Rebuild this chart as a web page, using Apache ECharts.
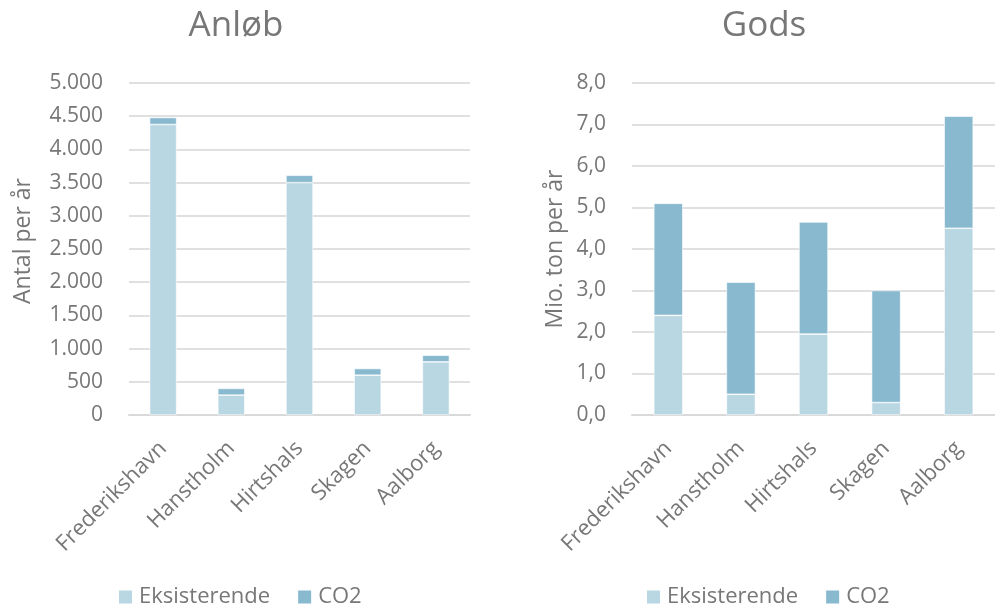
<!DOCTYPE html>
<html>
<head>
<meta charset="utf-8">
<script src="https://cdn.jsdelivr.net/npm/echarts@6/dist/echarts.min.js"></script>
<style>
  html, body { margin: 0; padding: 0; background: #fff; }
  #chart { width: 995px; height: 610px; }
</style>
</head>
<body>
<div id="chart"></div>
<script>
// Havne og deres trafik: anløb pr. år og gods i mio. ton pr. år
const ports = ['Frederikshavn', 'Hanstholm', 'Hirtshals', 'Skagen', 'Aalborg'];

const calls_existing = [4375, 300, 3500, 600, 800];
const calls_co2 = [105, 100, 110, 100, 100];

const goods_existing = [2.4, 0.5, 1.95, 0.3, 4.5];
const goods_co2 = [2.7, 2.7, 2.7, 2.7, 2.7];

const callsTicks = [0, 500, 1000, 1500, 2000, 2500, 3000, 3500, 4000, 4500, 5000];
const goodsTicks = [0, 1, 2, 3, 4, 5, 6, 7, 8];

const seriesNames = ['Eksisterende', 'CO2'];

const FONT = '"Open Sans", "Noto Sans", sans-serif';
const TXT = '#777777';
const LIGHT = '#b8d7e2';
const DARK = '#88b9cf';

const fmtThousands = v => String(Math.round(v)).replace(/\B(?=(\d{3})+(?!\d))/g, '.');
const fmtDecimal = v => v.toFixed(1).replace('.', ',');

function yAxis(idx, ticks, fmt, name, nameGap, namePad) {
  return {
    type: 'value', gridIndex: idx,
    min: ticks[0], max: ticks[ticks.length - 1], interval: ticks[1] - ticks[0],
    name: name, nameLocation: 'middle', nameGap: nameGap,
    nameTextStyle: { color: TXT, fontSize: 23, fontFamily: FONT, padding: namePad },
    axisLine: { show: false }, axisTick: { show: false },
    axisLabel: { color: TXT, fontSize: 21, fontFamily: FONT, margin: 26, formatter: fmt },
    splitLine: { lineStyle: { color: '#e0e0e0', width: 2 } }
  };
}

function xAxis(idx) {
  return {
    type: 'category', gridIndex: idx, data: ports,
    axisLine: { lineStyle: { color: '#d9d9d9', width: 2 } },
    axisTick: { show: false },
    axisLabel: { color: TXT, fontSize: 22, fontFamily: FONT, rotate: 45, margin: 30, interval: 0 }
  };
}

function bars(idx, existing, co2, width) {
  const base = { type: 'bar', stack: 's' + idx, xAxisIndex: idx, yAxisIndex: idx, barWidth: width };
  return [
    Object.assign({}, base, { name: seriesNames[0], data: existing,
      itemStyle: { color: LIGHT, borderColor: '#ffffff', borderWidth: 0.6 } }),
    Object.assign({}, base, { name: seriesNames[1], data: co2,
      itemStyle: { color: DARK, borderColor: '#ffffff', borderWidth: 0.6 } })
  ];
}

function legend(left) {
  return {
    left: left, top: 586, padding: 0, itemWidth: 15, itemHeight: 15, itemGap: 26,
    icon: 'rect', data: seriesNames,
    textStyle: { color: TXT, fontSize: 22, fontFamily: FONT, padding: [0, 0, 0, 1] }
  };
}

const chart = echarts.init(document.getElementById('chart'));
chart.setOption({
  animation: false,
  title: [
    { text: 'Anløb', left: 231, top: 4, textAlign: 'center',
      textStyle: { color: TXT, fontSize: 35, fontWeight: 'normal', fontFamily: FONT } },
    { text: 'Gods', left: 759, top: 4, textAlign: 'center',
      textStyle: { color: TXT, fontSize: 35, fontWeight: 'normal', fontFamily: FONT } }
  ],
  legend: [legend(117), legend(645)],
  grid: [
    { left: 129, right: 525, top: 83, bottom: 195 },
    { left: 632, right: -4, top: 83, bottom: 195 }
  ],
  xAxis: [xAxis(0), xAxis(1)],
  yAxis: [
    yAxis(0, callsTicks, fmtThousands, 'Antal per år', 94, [0, 0, 0, 16]),
    yAxis(1, goodsTicks, fmtDecimal, 'Mio. ton per år', 65, 0)
  ],
  series: [].concat(
    bars(0, calls_existing, calls_co2, 27),
    bars(1, goods_existing, goods_co2, 29)
  )
});
</script>
</body>
</html>
